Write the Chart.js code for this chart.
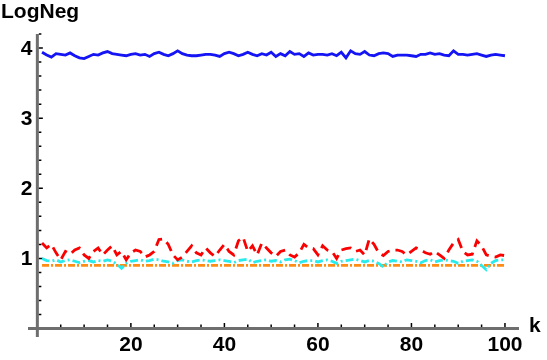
<!DOCTYPE html>
<html>
<head>
  <meta charset="utf-8">
  <title>LogNeg vs k</title>
  <script src="https://cdn.jsdelivr.net/npm/chart.js"></script>
  <style>
    body {
      margin: 0;
      background-color: #fff;
    }
    #chart {
      display: block;
    }
  </style>
</head>
<body>
  <canvas id="chart" width="547" height="360"></canvas>

  <script>
    // k values (x axis)
    const kValues = [
      1, 2, 3, 4, 5, 6, 7, 8, 9, 10, 11, 12, 13, 14, 15, 16, 17, 18, 19, 20,
      21, 22, 23, 24, 25, 26, 27, 28, 29, 30, 31, 32, 33, 34, 35, 36, 37, 38, 39, 40,
      41, 42, 43, 44, 45, 46, 47, 48, 49, 50, 51, 52, 53, 54, 55, 56, 57, 58, 59, 60,
      61, 62, 63, 64, 65, 66, 67, 68, 69, 70, 71, 72, 73, 74, 75, 76, 77, 78, 79, 80,
      81, 82, 83, 84, 85, 86, 87, 88, 89, 90, 91, 92, 93, 94, 95, 96, 97, 98, 99, 100
    ];

    // blue solid line, around 3.9
    const blueSeries = [
      3.94, 3.90, 3.87, 3.92, 3.91, 3.90, 3.93, 3.89, 3.86, 3.85,
      3.88, 3.91, 3.90, 3.93, 3.95, 3.92, 3.91, 3.90, 3.89, 3.91,
      3.92, 3.90, 3.91, 3.88, 3.92, 3.94, 3.91, 3.89, 3.92, 3.96,
      3.92, 3.90, 3.89, 3.89, 3.90, 3.91, 3.91, 3.90, 3.88, 3.92,
      3.94, 3.92, 3.89, 3.91, 3.94, 3.91, 3.89, 3.92, 3.90, 3.94,
      3.88, 3.92, 3.89, 3.95, 3.91, 3.92, 3.88, 3.93, 3.90, 3.91,
      3.91, 3.90, 3.92, 3.89, 3.94, 3.86, 3.96, 3.92, 3.91, 3.95,
      3.90, 3.89, 3.92, 3.93, 3.92, 3.88, 3.90, 3.90, 3.90, 3.89,
      3.88, 3.91, 3.91, 3.93, 3.91, 3.92, 3.90, 3.89, 3.96, 3.91,
      3.91, 3.90, 3.91, 3.92, 3.90, 3.88, 3.90, 3.91, 3.90, 3.89
    ];

    // red dashed line, 1.0 - 1.3
    const redSeries = [
      1.22, 1.15, 1.20, 1.08, 0.98, 1.10, 1.06, 1.12, 1.15, 1.05,
      1.00, 1.10, 1.15, 1.05, 1.12, 1.18, 1.05, 1.10, 0.98, 1.08,
      1.12, 1.10, 1.02, 1.05, 1.10, 1.27, 1.28, 1.20, 1.05, 0.98,
      1.02, 1.10, 1.18, 1.08, 1.05, 1.15, 1.08, 1.03, 1.12, 1.20,
      1.10, 1.05, 1.25, 1.30, 1.10, 1.18, 1.05, 1.22, 1.15, 1.08,
      1.03, 1.10, 1.12, 1.05, 1.02, 1.08, 1.20, 1.15, 1.14, 1.05,
      1.18, 1.12, 1.10, 1.00, 1.12, 1.14, 1.15, 1.10, 1.12, 1.05,
      1.28, 1.20, 1.08, 1.04, 1.10, 1.12, 1.12, 1.10, 1.05, 1.10,
      1.15, 1.12, 1.08, 1.06, 1.10, 1.05, 1.00, 1.12, 1.22, 1.27,
      1.10, 1.05, 1.06, 1.25, 1.18, 1.05, 1.03, 1.02, 1.05, 1.04
    ];

    // cyan dash-dot line, about 0.97
    const cyanSeries = [
      1.00, 0.97, 0.96, 0.98, 0.95, 0.97, 0.98, 0.96, 0.94, 0.96,
      0.97, 0.95, 0.97, 0.96, 0.98, 0.96, 0.92, 0.86, 0.93, 0.96,
      0.97, 0.98, 0.96, 0.97, 0.99, 0.98, 0.96, 0.95, 0.93, 0.97,
      0.98, 0.96, 0.95, 0.97, 0.98, 0.97, 0.96, 0.97, 0.98, 0.97,
      0.96, 0.94, 0.97, 0.98, 0.99, 0.94, 0.96, 0.97, 0.98, 0.96,
      0.97, 0.95, 0.98, 0.99, 0.97, 0.94, 0.96, 0.97, 0.97, 0.95,
      0.97, 0.98, 0.96, 0.93, 0.96, 0.97, 0.98, 0.99, 0.97, 0.95,
      0.97, 0.96, 0.93, 0.88, 0.95, 0.97, 0.96, 0.95, 0.98, 0.97,
      0.96, 0.94, 0.97, 0.98, 0.95, 0.97, 0.98, 0.97, 0.96, 0.93,
      0.96, 0.97, 0.98, 0.96, 0.90, 0.84, 0.93, 0.97, 0.98, 0.98
    ];

    // orange dashed line, flat at 0.9
    const orangeSeries = [
      0.9, 0.9, 0.9, 0.9, 0.9, 0.9, 0.9, 0.9, 0.9, 0.9,
      0.9, 0.9, 0.9, 0.9, 0.9, 0.9, 0.9, 0.9, 0.9, 0.9,
      0.9, 0.9, 0.9, 0.9, 0.9, 0.9, 0.9, 0.9, 0.9, 0.9,
      0.9, 0.9, 0.9, 0.9, 0.9, 0.9, 0.9, 0.9, 0.9, 0.9,
      0.9, 0.9, 0.9, 0.9, 0.9, 0.9, 0.9, 0.9, 0.9, 0.9,
      0.9, 0.9, 0.9, 0.9, 0.9, 0.9, 0.9, 0.9, 0.9, 0.9,
      0.9, 0.9, 0.9, 0.9, 0.9, 0.9, 0.9, 0.9, 0.9, 0.9,
      0.9, 0.9, 0.9, 0.9, 0.9, 0.9, 0.9, 0.9, 0.9, 0.9,
      0.9, 0.9, 0.9, 0.9, 0.9, 0.9, 0.9, 0.9, 0.9, 0.9,
      0.9, 0.9, 0.9, 0.9, 0.9, 0.9, 0.9, 0.9, 0.9, 0.9
    ];

    // tick labels
    const xTickLabels = [20, 40, 60, 80, 100];
    const yTickLabels = [1, 2, 3, 4];
    const xTitle = 'k';
    const yTitle = 'LogNeg';

    const toPoints = ys => ys.map((y, i) => ({ x: kValues[i], y: y }));

    // Mathematica-like axes crossing at the origin, drawn with the chart's scales
    const axesPlugin = {
      id: 'mmaAxes',
      beforeDatasetsDraw(chart) {
        const ctx = chart.ctx;
        const xs = chart.scales.x;
        const ys = chart.scales.y;
        const x0 = xs.getPixelForValue(0);
        const y0 = ys.getPixelForValue(0);
        ctx.save();

        // axis lines
        ctx.strokeStyle = '#6e6e6e';
        ctx.lineWidth = 3;
        ctx.beginPath();
        ctx.moveTo(xs.left, y0);
        ctx.lineTo(xs.right, y0);
        ctx.moveTo(x0, ys.bottom);
        ctx.lineTo(x0, ys.top);
        ctx.stroke();

        // tick marks
        ctx.strokeStyle = '#000';
        ctx.lineWidth = 1.5;
        ctx.beginPath();
        for (let k = 5; k <= 100; k += 5) {
          const px = xs.getPixelForValue(k);
          const len = (k % 20 === 0) ? 4 : 2.5;
          ctx.moveTo(px, y0 - 1.5);
          ctx.lineTo(px, y0 - 1.5 - len);
        }
        for (let i = 1; i <= 21; i++) {
          const py = ys.getPixelForValue(i * 0.2);
          const len = (i % 5 === 0) ? 4 : 2.5;
          ctx.moveTo(x0 + 1.5, py);
          ctx.lineTo(x0 + 1.5 + len, py);
        }
        ctx.stroke();

        // tick labels
        ctx.fillStyle = '#000';
        ctx.font = 'bold 21px "Liberation Sans", Arial, sans-serif';
        ctx.textAlign = 'center';
        ctx.textBaseline = 'top';
        xTickLabels.forEach(v => {
          ctx.fillText(String(v), xs.getPixelForValue(v), y0 + 6);
        });
        ctx.textAlign = 'right';
        ctx.textBaseline = 'middle';
        yTickLabels.forEach(v => {
          ctx.fillText(String(v), x0 - 5, ys.getPixelForValue(v) + 1);
        });

        // axis titles
        ctx.font = 'bold 21px "Liberation Sans", Arial, sans-serif';
        ctx.textAlign = 'left';
        ctx.textBaseline = 'middle';
        ctx.fillText(xTitle, xs.right + 10, y0 - 2);
        ctx.textBaseline = 'top';
        ctx.fillText(yTitle, 1, 2);
        ctx.restore();
      }
    };

    const ctx = document.getElementById('chart').getContext('2d');
    const chart = new Chart(ctx, {
      type: 'line',
      data: {
        datasets: [
          {
            label: 'blue',
            data: toPoints(blueSeries),
            borderColor: 'rgb(20, 20, 245)',
            borderWidth: 2.8,
            pointRadius: 0,
            tension: 0
          },
          {
            label: 'red',
            data: toPoints(redSeries),
            borderColor: 'rgb(250, 0, 0)',
            borderWidth: 2.8,
            borderDash: [10, 6],
            pointRadius: 0,
            tension: 0
          },
          {
            label: 'cyan',
            data: toPoints(cyanSeries),
            borderColor: 'rgb(40, 235, 235)',
            borderWidth: 2.8,
            borderDash: [8, 3, 2, 3],
            pointRadius: 0,
            tension: 0
          },
          {
            label: 'orange',
            data: toPoints(orangeSeries),
            borderColor: 'rgb(255, 140, 20)',
            borderWidth: 2.8,
            borderDash: [7, 2, 2, 2],
            pointRadius: 0,
            tension: 0
          }
        ]
      },
      options: {
        responsive: false,
        animation: false,
        layout: {
          padding: { left: 28, right: 28, top: 34, bottom: 23 }
        },
        plugins: {
          legend: { display: false },
          tooltip: { enabled: false }
        },
        scales: {
          x: {
            type: 'linear',
            min: -2,
            max: 103,
            display: false
          },
          y: {
            min: -0.12,
            max: 4.2,
            display: false
          }
        }
      },
      plugins: [axesPlugin]
    });
  </script>
</body>
</html>
